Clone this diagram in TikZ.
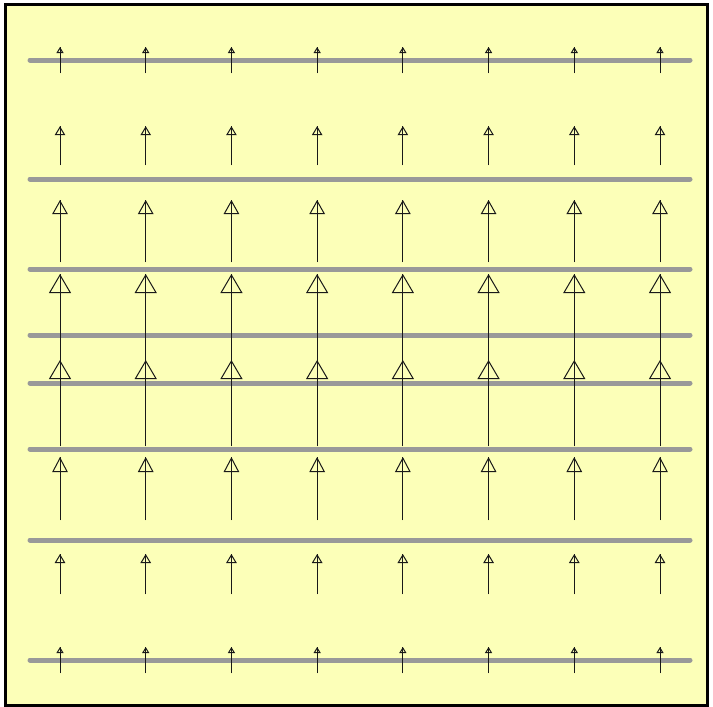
\documentclass[tikz,border=0pt]{standalone}
\usetikzlibrary{arrows.meta}

\definecolor{fieldbg}{RGB}{252,255,184}
\definecolor{levelgray}{RGB}{153,153,153}

\tikzset{
    level/.style={draw=levelgray, line width=5pt, line cap=round},
    shaft/.style={draw=black!90, line width=1pt},
    head/.style 2 args={shaft, -{Triangle[open, length=#1, width=#2]}}
}

\begin{document}
\begin{tikzpicture}[x=1pt, y=-1pt]
    \useasboundingbox (0,0) rectangle (713,707);
    \draw[fill=fieldbg, line width=3pt] (5.5,4.5) rectangle (707.5,705.5);

    % level lines
    \foreach \ly in {60,179,269,335,383,449,540,660}
        \draw[level] (30,\ly) -- (690,\ly);

    % field arrows: row centre / length / head length / head width
    \foreach \cy/\len/\hl/\hw in {60/26/6/7, 145.7/39/9/10.5, 231/62/14/15.5, 317/86/19/22,
                                 403/86/19/22, 488.5/63/15/15.5, 574/40/9/10.5, 660/26/6/7}
        \foreach \i in {0,...,7} {
            \coordinate (b\i) at ({60+\i*600/7}, {\cy+\len/2});
            \coordinate (t\i) at ({60+\i*600/7}, {\cy-\len/2});
            \draw[shaft] (b\i) -- (t\i);
            \draw[head={\hl pt}{\hw pt}] (b\i) -- (t\i);
        }
\end{tikzpicture}
\end{document}
